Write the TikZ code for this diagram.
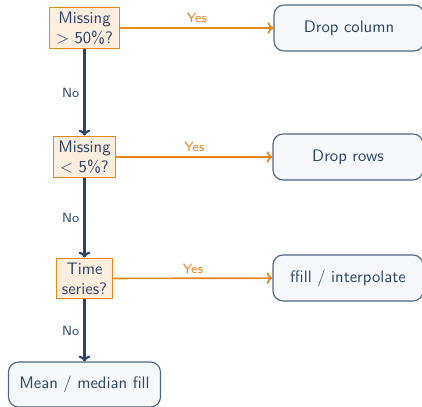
\documentclass[tikz,border=0pt]{standalone}
\usepackage{amsmath}
\usepackage{tikz}
\usetikzlibrary{arrows.meta}
\definecolor{navy}{HTML}{2D4468}
\definecolor{amber}{HTML}{E3861E}
\definecolor{amberfill}{HTML}{FCEEDF}
\definecolor{paleblue}{HTML}{F6F8FB}
\definecolor{edgeblue}{HTML}{4F6585}
\tikzset{
    query/.style={
        draw=amber, fill=amberfill, line width=0.6pt,
        text=navy, align=center, inner sep=1.5pt,
        font=\sffamily
    },
    outcome/.style={
        draw=edgeblue, fill=paleblue, rounded corners=6pt, line width=0.7pt,
        text=navy, minimum width=90pt, minimum height=27.6pt,
        font=\sffamily
    },
    yes/.style={
        draw=amber, line width=1pt, -{To[length=3.5pt,width=7pt]}
    },
    no/.style={
        draw=navy, line width=1.3pt, -{To[length=3.5pt,width=7pt]}
    },
    lbl/.style={font=\sffamily\footnotesize, inner sep=2.5pt}
}
\begin{document}
\begin{tikzpicture}[x=0.6pt,y=-0.6pt]
		\useasboundingbox (0,0) rectangle (422,407);

		% questions
		\node[query, minimum width=42.6pt, minimum height=25.2pt] (q1) at (84.5,28) {Missing\\$>$ 50\%?};
		\node[query, minimum width=37.8pt, minimum height=25.2pt] (q2) at (84.5,157) {Missing\\$<$ 5\%?};
		\node[query, minimum width=34.2pt, minimum height=24.6pt] (q3) at (84.5,278.5) {Time\\series?};

		% outcomes
		\node[outcome] (drop col) at (349,28) {Drop column};
		\node[outcome] (drop rows) at (348,157) {Drop rows};
		\node[outcome] (ffill) at (348,278) {ffill / interpolate};
		\node[outcome, minimum width=91.2pt, minimum height=27pt] (mean) at (84.5,384.5) {Mean / median fill};

		% yes branches
		\draw[yes] (q1) -- node[lbl, above, text=amber] {Yes} (drop col);
		\draw[yes] (q2) -- node[lbl, above, text=amber] {Yes} (drop rows);
		\draw[yes] (q3) -- node[lbl, above, text=amber] {Yes} (ffill);

		% no branches
		\draw[no] (q1) -- node[lbl, left, text=navy] {No} (q2);
		\draw[no] (q2) -- node[lbl, left, text=navy] {No} (q3);
		\draw[no] (q3) -- node[lbl, left, text=navy] {No} (mean);
	\end{tikzpicture}
\end{document}
